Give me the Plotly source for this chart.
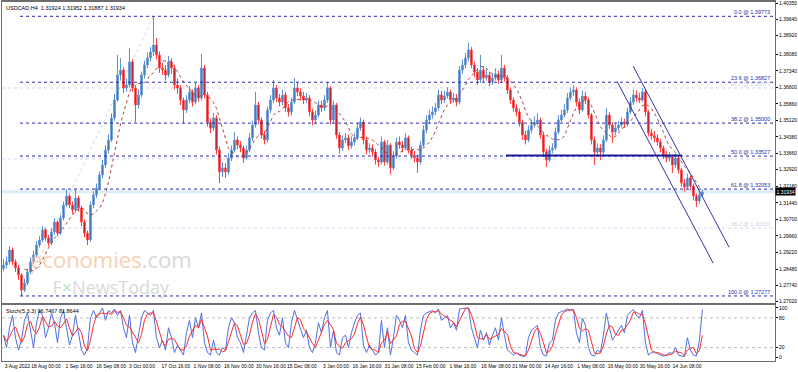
import numpy as np
import pandas as pd
import plotly.graph_objects as go

# ---------------- data (USDCAD, one candle per trading day) -------------
FIRST_OPEN = 1.2850
CLOSE = [
1.2866,1.2880,1.2933,1.2880,1.2853,1.2821,1.2754,1.2786,1.2835,1.2880,
1.2911,1.2955,1.2978,1.3023,1.2987,1.2964,1.3014,1.3058,1.3009,1.3076,
1.3134,1.3174,1.3134,1.3112,1.3165,1.3121,1.3058,1.3009,1.2978,1.3134,
1.3179,1.3210,1.3268,1.3313,1.3380,1.3425,1.3523,1.3603,1.3715,1.3737,
1.3657,1.3670,1.3773,1.3657,1.3581,1.3626,1.3715,1.3760,1.3791,1.3818,
1.3849,1.3804,1.3746,1.3737,1.3715,1.3773,1.3746,1.3670,1.3657,1.3603,
1.3559,1.3603,1.3639,1.3594,1.3657,1.3612,1.3746,1.3626,1.3505,1.3478,
1.3523,1.3380,1.3282,1.3300,1.3282,1.3344,1.3380,1.3425,1.3402,1.3389,
1.3344,1.3380,1.3434,1.3492,1.3581,1.3514,1.3447,1.3425,1.3559,1.3603,
1.3657,1.3612,1.3594,1.3626,1.3568,1.3550,1.3594,1.3657,1.3639,1.3621,
1.3603,1.3612,1.3550,1.3514,1.3536,1.3581,1.3568,1.3603,1.3657,1.3514,
1.3581,1.3447,1.3389,1.3425,1.3434,1.3398,1.3416,1.3434,1.3478,1.3505,
1.3425,1.3380,1.3389,1.3371,1.3335,1.3326,1.3416,1.3326,1.3402,1.3300,
1.3353,1.3416,1.3402,1.3389,1.3434,1.3380,1.3358,1.3344,1.3326,1.3402,
1.3469,1.3514,1.3536,1.3550,1.3568,1.3626,1.3603,1.3621,1.3639,1.3603,
1.3612,1.3594,1.3737,1.3760,1.3791,1.3827,1.3760,1.3728,1.3693,1.3737,
1.3702,1.3715,1.3684,1.3702,1.3720,1.3693,1.3746,1.3702,1.3648,1.3603,
1.3568,1.3550,1.3505,1.3447,1.3425,1.3469,1.3492,1.3505,1.3514,1.3447,
1.3371,1.3335,1.3380,1.3389,1.3460,1.3514,1.3536,1.3559,1.3612,1.3639,
1.3648,1.3594,1.3559,1.3621,1.3603,1.3536,1.3425,1.3371,1.3389,1.3371,
1.3425,1.3536,1.3492,1.3460,1.3478,1.3492,1.3505,1.3496,1.3550,1.3594,
1.3626,1.3612,1.3603,1.3639,1.3550,1.3456,1.3443,1.3434,1.3416,1.3389,
1.3358,1.3344,1.3349,1.3313,1.3344,1.3291,1.3232,1.3215,1.3255,1.3219,
1.3174,1.3152,1.3179,1.3193]
HIGH = [
1.2892,1.2905,1.2950,1.2945,1.2892,1.2866,1.2830,1.2805,1.2850,1.2900,
1.2930,1.2972,1.2995,1.3040,1.3032,1.3000,1.3030,1.3075,1.3065,1.3090,
1.3150,1.3205,1.3185,1.3150,1.3205,1.3175,1.3130,1.3070,1.3020,1.3150,
1.3195,1.3230,1.3285,1.3335,1.3400,1.3450,1.3545,1.3630,1.3805,1.3790,
1.3750,1.3700,1.3835,1.3785,1.3670,1.3650,1.3730,1.3780,1.3815,1.3840,
1.3977,1.3880,1.3820,1.3770,1.3760,1.3800,1.3790,1.3760,1.3700,1.3670,
1.3615,1.3625,1.3665,1.3650,1.3680,1.3670,1.3810,1.3760,1.3640,1.3520,
1.3545,1.3535,1.3395,1.3325,1.3320,1.3365,1.3400,1.3460,1.3440,1.3420,
1.3400,1.3400,1.3455,1.3510,1.3640,1.3595,1.3525,1.3465,1.3575,1.3625,
1.3693,1.3670,1.3630,1.3650,1.3640,1.3585,1.3615,1.3702,1.3680,1.3655,
1.3640,1.3635,1.3625,1.3565,1.3555,1.3600,1.3600,1.3625,1.3684,1.3665,
1.3600,1.3590,1.3460,1.3445,1.3455,1.3450,1.3440,1.3455,1.3500,1.3525,
1.3515,1.3440,1.3410,1.3405,1.3385,1.3350,1.3440,1.3425,1.3425,1.3410,
1.3375,1.3435,1.3440,1.3420,1.3455,1.3445,1.3395,1.3375,1.3360,1.3420,
1.3490,1.3535,1.3560,1.3575,1.3590,1.3650,1.3645,1.3645,1.3660,1.3650,
1.3635,1.3630,1.3755,1.3785,1.3815,1.3860,1.3840,1.3775,1.3745,1.3805,
1.3755,1.3740,1.3730,1.3725,1.3745,1.3735,1.3805,1.3760,1.3715,1.3660,
1.3615,1.3585,1.3565,1.3515,1.3465,1.3490,1.3515,1.3530,1.3545,1.3525,
1.3460,1.3385,1.3400,1.3410,1.3480,1.3535,1.3560,1.3585,1.3635,1.3660,
1.3670,1.3660,1.3610,1.3645,1.3640,1.3615,1.3545,1.3440,1.3410,1.3405,
1.3445,1.3568,1.3550,1.3505,1.3500,1.3510,1.3525,1.3520,1.3570,1.3615,
1.3650,1.3645,1.3635,1.3657,1.3650,1.3560,1.3475,1.3465,1.3450,1.3430,
1.3400,1.3375,1.3370,1.3360,1.3365,1.3355,1.3300,1.3250,1.3275,1.3265,
1.3230,1.3185,1.3195,1.3200]
LOW = [
1.2838,1.2850,1.2868,1.2866,1.2835,1.2800,1.2728,1.2745,1.2775,1.2825,
1.2870,1.2900,1.2945,1.2968,1.2975,1.2950,1.2955,1.3002,1.2995,1.3000,
1.3065,1.3125,1.3120,1.3095,1.3100,1.3105,1.3040,1.2990,1.2955,1.2970,
1.3120,1.3165,1.3200,1.3255,1.3300,1.3365,1.3415,1.3510,1.3595,1.3690,
1.3635,1.3640,1.3660,1.3640,1.3505,1.3565,1.3615,1.3700,1.3745,1.3775,
1.3800,1.3785,1.3725,1.3715,1.3690,1.3705,1.3720,1.3650,1.3630,1.3580,
1.3500,1.3545,1.3590,1.3575,1.3585,1.3595,1.3600,1.3610,1.3485,1.3455,
1.3465,1.3360,1.3232,1.3260,1.3255,1.3270,1.3330,1.3370,1.3385,1.3370,
1.3322,1.3335,1.3370,1.3420,1.3480,1.3495,1.3430,1.3405,1.3415,1.3545,
1.3590,1.3595,1.3575,1.3580,1.3550,1.3530,1.3535,1.3585,1.3620,1.3600,
1.3585,1.3590,1.3530,1.3490,1.3495,1.3525,1.3550,1.3555,1.3590,1.3495,
1.3500,1.3430,1.3365,1.3375,1.3410,1.3380,1.3385,1.3400,1.3425,1.3465,
1.3405,1.3360,1.3365,1.3350,1.3315,1.3305,1.3315,1.3310,1.3315,1.3270,
1.3290,1.3340,1.3385,1.3370,1.3380,1.3365,1.3340,1.3325,1.3278,1.3315,
1.3390,1.3455,1.3500,1.3520,1.3535,1.3555,1.3585,1.3590,1.3610,1.3585,
1.3590,1.3575,1.3585,1.3720,1.3745,1.3775,1.3745,1.3705,1.3670,1.3680,
1.3685,1.3690,1.3665,1.3670,1.3690,1.3675,1.3680,1.3685,1.3630,1.3585,
1.3550,1.3530,1.3485,1.3425,1.3405,1.3415,1.3455,1.3480,1.3490,1.3430,
1.3350,1.3304,1.3325,1.3365,1.3380,1.3450,1.3505,1.3525,1.3545,1.3600,
1.3620,1.3575,1.3540,1.3550,1.3585,1.3520,1.3405,1.3313,1.3355,1.3335,
1.3360,1.3415,1.3475,1.3412,1.3445,1.3465,1.3480,1.3478,1.3485,1.3540,
1.3580,1.3595,1.3590,1.3595,1.3530,1.3440,1.3425,1.3415,1.3400,1.3370,
1.3340,1.3325,1.3330,1.3277,1.3300,1.3275,1.3215,1.3195,1.3205,1.3200,
1.3155,1.3125,1.3140,1.3170]
STOCH_K = [
45,20,60,85,40,15,35,75,90,55,
20,70,95,85,40,60,90,70,30,80,
95,60,25,45,85,50,15,5,20,80,
95,80,90,100,75,95,90,98,85,95,
60,40,85,30,10,50,80,95,90,85,
95,40,20,35,15,60,40,10,25,15,
5,50,75,40,80,60,90,30,10,5,
35,10,5,20,15,60,80,70,40,30,
10,45,80,90,95,50,20,15,75,90,
95,60,45,80,30,20,70,95,75,60,
40,55,20,10,30,70,50,80,95,20,
55,10,5,40,45,20,50,70,85,90,
25,10,25,15,5,10,75,20,60,5,
40,85,75,60,85,30,15,10,5,55,
85,90,92,95,90,98,75,80,85,60,
70,55,98,99,100,100,60,40,20,55,
35,50,25,45,60,35,80,45,15,10,
5,10,5,2,3,40,55,60,65,20,
5,3,30,35,75,90,92,95,98,95,
97,50,30,80,65,20,5,3,15,10,
45,90,60,35,45,55,65,50,85,92,
97,85,80,95,30,5,10,12,8,5,
3,5,10,8,20,5,3,2,40,15,
5,3,35,97]
MA_PERIOD = 8
STOCH_SIGNAL_PERIOD = 3

PRICE_TICKS = [1.40350, 1.39640, 1.38920, 1.38080, 1.37340, 1.36600, 1.35860, 1.35120,
               1.34380, 1.33660, 1.32920, 1.32180, 1.31440, 1.30700, 1.29960, 1.29220,
               1.28480, 1.27740, 1.27020]
STOCH_TICKS = [0, 20, 80, 100]
DATE_TICK_IDX = [0, 9.5, 20.5, 31.2, 41.5, 52.8, 63.2, 73.8, 84.5, 94.8, 106.2, 116.5,
                 127.2, 137.8, 148.5, 159.5, 169.8, 180.5, 191.2, 201.8, 212.5, 223.2]
DATE_TICK_TEXT = ["3 Aug 2022", "18 Aug 00:00", "1 Sep 16:00", "16 Sep 08:00", "3 Oct 00:00",
                  "17 Oct 16:00", "1 Nov 08:00", "16 Nov 00:00", "30 Nov 16:00", "15 Dec 08:00",
                  "3 Jan 00:00", "16 Jan 16:00", "31 Jan 08:00", "15 Feb 00:00", "1 Mar 16:00",
                  "16 Mar 08:00", "31 Mar 00:00", "14 Apr 16:00", "1 May 08:00", "16 May 00:00",
                  "30 May 16:00", "14 Jun 08:00"]
FIB_LEVELS = ["0.0", "23.6", "38.2", "50.0", "61.8", "100.0"]
FIB_PRICES = [1.39773, 1.36827, 1.35000, 1.33527, 1.32053, 1.27277]
FIB_START_IDX = 5.5
FIB2_LEVELS = ["61.8", "50.0", "38.2"]
FIB2_PRICES = [1.36570, 1.33400, 1.30310]
FIB_TREND = ([6, 50], [1.27277, 1.39773])
SUPPORT = ([167.5, 226.2], [1.3355, 1.3355])
CHANNEL_UP = ([209.9, 241.9], [1.3755, 1.2945])
CHANNEL_LO = ([204.6, 236.6], [1.3685, 1.2874])
HEADER_OHLC = ["1.31924", "1.31952", "1.31887", "1.31934"]
LAST_PRICE = 1.31934
STOCH_VALUES = ["96.7467", "81.8644"]

# ---------------- derived ----------------
n = len(CLOSE)
X = np.arange(n)
OPEN = [FIRST_OPEN] + CLOSE[:-1]
HI = [max(h, o, c) for h, o, c in zip(HIGH, OPEN, CLOSE)]
LO = [min(l, o, c) for l, o, c in zip(LOW, OPEN, CLOSE)]
ma = pd.Series(CLOSE).rolling(MA_PERIOD).mean()
stoch_d = pd.Series(STOCH_K, dtype=float).rolling(STOCH_SIGNAL_PERIOD, min_periods=1).mean()

XR = [-0.5, 257.2]
Y1R = [1.26963, 1.40412]
Y2R = [-7, 106]
FONT = "Liberation Sans, Arial, sans-serif"
NAVY = "#2a2aa6"

fig = go.Figure()
fig.add_trace(go.Candlestick(
    x=X, open=OPEN, high=HI, low=LO, close=CLOSE,
    increasing=dict(line=dict(color="#5b8fcf", width=1), fillcolor="#2f6db3"),
    decreasing=dict(line=dict(color="#ff3a3a", width=1), fillcolor="#8b1a33"),
    whiskerwidth=0, showlegend=False, hoverinfo="skip", xaxis="x", yaxis="y"))
fig.add_trace(go.Scatter(x=X, y=ma, mode="lines", line=dict(color="#a8423f", width=1, dash="dot"),
                         showlegend=False, hoverinfo="skip", xaxis="x", yaxis="y"))
fig.add_trace(go.Scatter(x=X, y=STOCH_K, mode="lines", line=dict(color="#4f6fe0", width=1),
                         showlegend=False, hoverinfo="skip", xaxis="x2", yaxis="y2"))
fig.add_trace(go.Scatter(x=X, y=stoch_d, mode="lines", line=dict(color="#ff2a2a", width=1),
                         showlegend=False, hoverinfo="skip", xaxis="x2", yaxis="y2"))

shapes = []
shapes.append(dict(type="line", xref="x", yref="y", x0=XR[0], x1=XR[1], y0=LAST_PRICE, y1=LAST_PRICE,
                   line=dict(color="#dbedf6", width=3), layer="below"))
for p in FIB2_PRICES:
    shapes.append(dict(type="line", xref="x", yref="y", x0=XR[0], x1=XR[1], y0=p, y1=p,
                       line=dict(color="#d6d6ee", width=1, dash="dot"), layer="below"))
shapes.append(dict(type="line", xref="x", yref="y", x0=FIB_TREND[0][0], x1=FIB_TREND[0][1],
                   y0=FIB_TREND[1][0], y1=FIB_TREND[1][1],
                   line=dict(color="#d4d4e4", width=1, dash="dot"), layer="below"))
for p in FIB_PRICES:
    shapes.append(dict(type="line", xref="x", yref="y", x0=FIB_START_IDX, x1=XR[1], y0=p, y1=p,
                       line=dict(color=NAVY, width=1, dash="dot")))
shapes.append(dict(type="line", xref="x", yref="y", x0=SUPPORT[0][0], x1=SUPPORT[0][1],
                   y0=SUPPORT[1][0], y1=SUPPORT[1][1], line=dict(color="#1c1c9a", width=2)))
for ch in (CHANNEL_UP, CHANNEL_LO):
    shapes.append(dict(type="line", xref="x", yref="y", x0=ch[0][0], x1=ch[0][1],
                       y0=ch[1][0], y1=ch[1][1], line=dict(color="#3434a8", width=1)))
for lv in (20, 80):
    shapes.append(dict(type="line", xref="x2", yref="y2", x0=XR[0], x1=XR[1], y0=lv, y1=lv,
                       line=dict(color="#bdbdbd", width=1, dash="dot"), layer="below"))

ann = []
for lv, p in zip(FIB_LEVELS, FIB_PRICES):
    ann.append(dict(xref="paper", yref="y", x=1, y=p, xanchor="right", yanchor="bottom",
                    xshift=-3, yshift=-1, text=f"{lv} @ {p:.5f}", showarrow=False,
                    font=dict(family=FONT, size=5.5, color=NAVY)))
for lv, p in zip(FIB2_LEVELS, FIB2_PRICES):
    if lv == "50.0":
        continue
    ann.append(dict(xref="paper", yref="y", x=1, y=p, xanchor="right", yanchor="bottom",
                    xshift=-3, yshift=-1, text=f"{lv} @ {p:.5f}", showarrow=False,
                    font=dict(family=FONT, size=5.5, color="#cfcfea")))
ann.append(dict(xref="paper", yref="paper", x=0.003, y=1, xanchor="left", yanchor="top", yshift=-1,
                text="USDCAD,H4  " + " ".join(HEADER_OHLC), showarrow=False,
                font=dict(family=FONT, size=5.5, color="#000")))
ann.append(dict(xref="paper", yref="y2", x=0.003, y=Y2R[1], xanchor="left", yanchor="top", yshift=-1,
                text="Stoch(5,3,3) " + " ".join(STOCH_VALUES), showarrow=False,
                font=dict(family=FONT, size=5.5, color="#000")))
ann.append(dict(xref="paper", yref="y", x=1, y=LAST_PRICE, xanchor="left", yanchor="middle", xshift=0,
                text=f"{LAST_PRICE:.5f}", showarrow=False, bgcolor="#000", borderpad=0.5,
                font=dict(family=FONT, size=5, color="#fff")))
# watermarks (one two-line text block)
ann.append(dict(xref="x", yref="y", x=36.0, y=1.2838, xanchor="center", yanchor="middle", align="center",
                text='<span style="font-size:22px"><span style="color:#f7bf98">economies</span>'
                     '<span style="color:#cccccc">.com</span></span><br>'
                     '<span style="font-size:18px;color:#cdcdcd">F<span style="color:#a6d6a6">×</span>'
                     'NewsToday</span>',
                showarrow=False, opacity=0.75, font=dict(family="Open Sans, sans-serif", size=20)))

fig.update_layout(
    width=798, height=372, margin=dict(l=2, r=23, t=2, b=11, autoexpand=False),
    paper_bgcolor="#fff", plot_bgcolor="#fff", showlegend=False,
    shapes=shapes, annotations=ann, hovermode=False,
    xaxis=dict(domain=[0, 1], range=XR, anchor="y", showticklabels=False, showgrid=False, zeroline=False,
               rangeslider=dict(visible=False), showline=True, mirror=True, linecolor="#6e6e6e",
               linewidth=2, automargin=False),
    yaxis=dict(domain=[0.1616, 1], range=Y1R, side="right", anchor="x", tickvals=PRICE_TICKS,
               ticktext=[f"{v:.5f}" for v in PRICE_TICKS], ticks="outside", ticklen=2, tickcolor="#000",
               ticklabelstandoff=0,
               tickfont=dict(family=FONT, size=5, color="#000"), showgrid=False, zeroline=False,
               showline=True, mirror=True, linecolor="#6e6e6e", linewidth=1, automargin=False),
    xaxis2=dict(domain=[0, 1], range=XR, anchor="y2", tickvals=DATE_TICK_IDX, ticktext=DATE_TICK_TEXT,
                tickfont=dict(family=FONT, size=5, color="#000"), tickangle=0, ticklabelshift=14,
                ticklabelstandoff=0, ticks="", showgrid=False, zeroline=False, showline=True, mirror=True,
                linecolor="#6e6e6e", linewidth=1, automargin=False),
    yaxis2=dict(domain=[0, 0.156], range=Y2R, side="right", anchor="x2", tickvals=STOCH_TICKS,
                ticktext=[str(v) for v in STOCH_TICKS], ticks="outside", ticklen=2, tickcolor="#000",
                ticklabelstandoff=0,
                tickfont=dict(family=FONT, size=5, color="#000"), showgrid=False, zeroline=False,
                showline=True, mirror=True, linecolor="#6e6e6e", linewidth=1, automargin=False),
)
fig.write_html("out.html")
